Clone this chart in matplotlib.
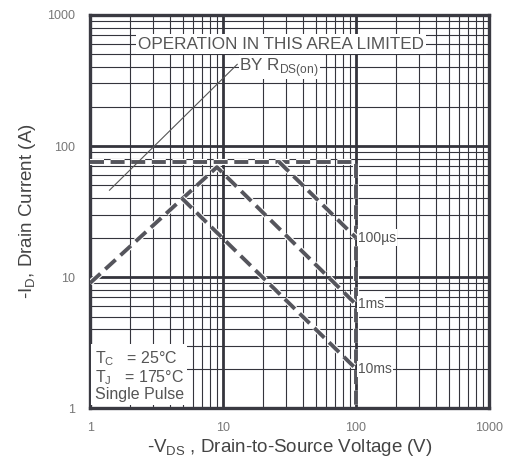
import matplotlib
matplotlib.use("Agg")
import matplotlib.pyplot as plt
import matplotlib.patheffects as pe
from matplotlib.ticker import LogLocator, FixedLocator, NullFormatter

plt.rcParams['font.family'] = ['Liberation Sans', 'DejaVu Sans']

# ---- data ----
x_ticks = [1, 10, 100, 1000]
y_ticks = [1, 10, 100, 1000]
x_tick_labels = ["1", "10", "100", "1000"]
y_tick_labels = ["1", "10", "100", "1000"]

rds_v = [1.4, 12.8]          # R_DS(on) limit line
rds_i = [46, 420]

limit_v = [1, 100, 100]      # package / voltage limit
limit_i = [76, 76, 1]

us100_v = [26.3, 100]        # 100 us
us100_i = [76, 20]

ms1_v = [1, 9, 100]          # 1 ms
ms1_i = [9, 69, 6.2]

ms10_v = [4.9, 100]          # 10 ms
ms10_i = [40, 2.0]

labels = ["100µs", "1ms", "10ms"]
label_i = [20, 6.2, 2.0]

fig = plt.figure(figsize=(5.06, 4.68), dpi=100)
ax = fig.add_axes([0.178, 0.128, 0.788, 0.840])
ax.set_xscale('log')
ax.set_yscale('log')
ax.set_xlim(1, 1000)
ax.set_ylim(1, 1000)

gc = '#34343c'
ax.xaxis.set_major_locator(FixedLocator(x_ticks))
ax.yaxis.set_major_locator(FixedLocator(y_ticks))
ax.set_xticklabels(x_tick_labels)
ax.set_yticklabels(y_tick_labels)
ax.xaxis.set_minor_locator(LogLocator(base=10, subs=range(2, 10)))
ax.yaxis.set_minor_locator(LogLocator(base=10, subs=range(2, 10)))
ax.xaxis.set_minor_formatter(NullFormatter())
ax.yaxis.set_minor_formatter(NullFormatter())
ax.grid(True, which='major', color=gc, lw=2.0)
ax.grid(True, which='minor', color=gc, lw=0.8)
ax.set_axisbelow(True)
ax.tick_params(which='both', length=0, labelsize=9, labelcolor='#777777')
ax.tick_params(axis='y', pad=11)
ax.tick_params(axis='x', pad=10)
for s in ax.spines.values():
    s.set_linewidth(2.4)
    s.set_color('#3a3a42')

dc = '#55555c'
peff = [pe.Stroke(linewidth=4.4, foreground='white'), pe.Normal()]
kw = dict(color=dc, lw=2.8, dashes=(3.6, 1.7), path_effects=peff, solid_capstyle='butt', zorder=5)
ax.plot(limit_v, limit_i, **kw)
ax.plot(us100_v, us100_i, **kw)
ax.plot(ms1_v, ms1_i, **kw)
ax.plot(ms10_v, ms10_i, **kw)
ax.plot(rds_v, rds_i, color='#555555', lw=0.8, zorder=5)

tc = '#555555'
bb = dict(facecolor='white', edgecolor='none', pad=1.5)
ax.text(2.3, 600, "OPERATION IN THIS AREA LIMITED", fontsize=12.3, color=tc,
        ha='left', va='center', bbox=bb, zorder=6)
ax.text(13.3, 400, "BY R$_{\\mathregular{DS(on)}}$", fontsize=12.3, color=tc,
        ha='left', va='center', bbox=dict(facecolor='white', edgecolor='none', pad=0.5), zorder=6)
for lab, yi in zip(labels, label_i):
    ax.text(104, yi, lab, fontsize=10, color=tc, ha='left', va='center',
            bbox=dict(facecolor='white', edgecolor='none', pad=0.8), zorder=6)

ax.text(1.08, 1.12, "T$_\\mathregular{C}$   = 25°C\nT$_\\mathregular{J}$   = 175°C\nSingle Pulse",
        fontsize=11.5, color=tc, ha='left', va='bottom', linespacing=1.0,
        bbox=dict(facecolor='white', edgecolor='none', pad=2.5), zorder=6)

ax.set_xlabel("-V$_\\mathregular{DS}$ , Drain-to-Source Voltage (V)", fontsize=13.5, color='#444444', labelpad=2)
ax.set_ylabel("-I$_\\mathregular{D}$, Drain Current (A)", fontsize=13.5, color='#444444', labelpad=6)

fig.savefig("out.png", dpi=100)
